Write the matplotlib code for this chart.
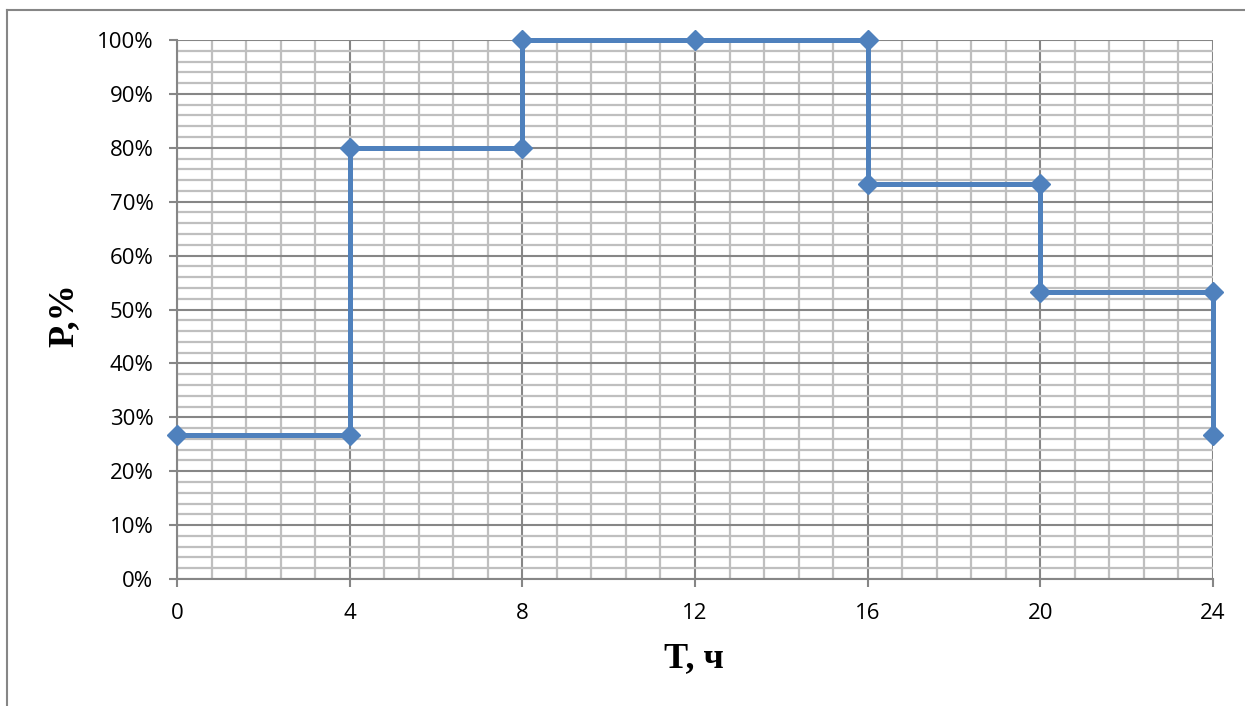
import matplotlib.pyplot as plt
from matplotlib.lines import Line2D
from matplotlib.ticker import MultipleLocator, PercentFormatter

# === Data ===
hours = [0, 4, 4, 8, 8, 12, 16, 16, 20, 20, 24, 24]
load_pct = [26.67, 26.67, 80, 80, 100, 100, 100, 73.33, 73.33, 53.33, 53.33, 26.67]
x_ticks = [0, 4, 8, 12, 16, 20, 24]
y_ticks = [0, 10, 20, 30, 40, 50, 60, 70, 80, 90, 100]

line_color = "#4F81BD"
major_grid = "#868686"
minor_grid = "#BFBFBF"

fig = plt.figure(figsize=(12.45, 7.06), dpi=100)
ax = fig.add_axes([177 / 1245, 127 / 706, 1036 / 1245, 539 / 706])

# === Chart ===
ax.plot(hours, load_pct, color=line_color, lw=3.6, marker="D", ms=10.5,
        markeredgecolor=line_color, markerfacecolor=line_color, zorder=5,
        clip_on=False)

ax.set_xlim(0, 24)
ax.set_ylim(0, 100)
ax.set_xticks(x_ticks)
ax.set_yticks(y_ticks)
ax.xaxis.set_minor_locator(MultipleLocator(0.8))
ax.yaxis.set_minor_locator(MultipleLocator(2))
ax.yaxis.set_major_formatter(PercentFormatter(decimals=0))

ax.grid(which="major", color=major_grid, lw=1.5)
ax.grid(which="minor", color=minor_grid, lw=1.6)
ax.set_axisbelow(True)

for side in ["top", "right"]:
    ax.spines[side].set_visible(False)
for side in ["left", "bottom"]:
    ax.spines[side].set_color(major_grid)
    ax.spines[side].set_linewidth(1.5)

ax.tick_params(which="major", length=6, width=1.5, color=major_grid,
               labelsize=16, pad=11)
ax.tick_params(which="minor", length=0)
for lab in ax.get_xticklabels() + ax.get_yticklabels():
    lab.set_fontfamily("Open Sans")

ax.set_xlabel("T, ч", fontfamily="Liberation Serif", fontweight="bold",
              fontsize=26, va="center")
ax.set_ylabel("P,%", fontfamily="Liberation Serif", fontweight="bold",
              fontsize=26, va="center")
ax.xaxis.set_label_coords(0.499, -0.148)
ax.yaxis.set_label_coords(-0.109, 0.49)

# outer chart frame (only top and left visible in the crop)
fig.add_artist(Line2D([7 / 1245, 7 / 1245], [0, 1 - 10 / 706],
                      transform=fig.transFigure, color=major_grid, lw=1.5))
fig.add_artist(Line2D([7 / 1245, 1], [1 - 10 / 706, 1 - 10 / 706],
                      transform=fig.transFigure, color=major_grid, lw=1.5))

plt.savefig("out.png", dpi=100)
plt.close()
